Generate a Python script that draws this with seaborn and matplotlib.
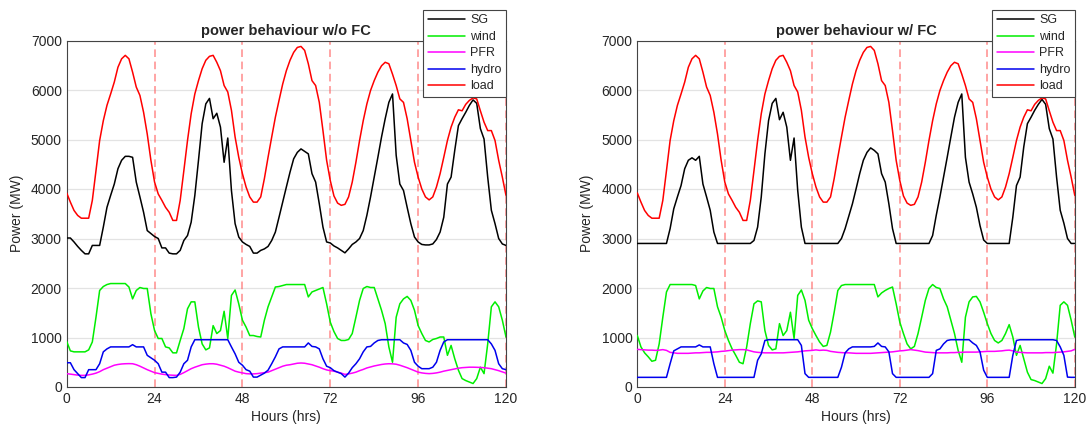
import numpy as np
import pandas as pd
import matplotlib
matplotlib.use("Agg")
import matplotlib.pyplot as plt
import seaborn as sns

hours = list(range(121))
series_names = ["SG", "wind", "PFR", "hydro", "load"]
colors = {"SG": "#000000", "wind": "#00ee00", "PFR": "#ff00ff", "hydro": "#0000ee", "load": "#ff0000"}
titles = ["power behaviour w/o FC", "power behaviour w/ FC"]
xticks = [0, 24, 48, 72, 96, 120]
yticks = [0, 1000, 2000, 3000, 4000, 5000, 6000, 7000]
day_marks = [24, 48, 72, 96, 120]

load = [3920, 3735, 3567, 3466, 3410, 3410, 3410, 3770, 4370, 4980,
        5380, 5690, 5920, 6160, 6460, 6630, 6700, 6630, 6360, 6060,
        5890, 5550, 5110, 4580, 4140, 3900, 3770, 3630, 3530, 3365,
        3365, 3770, 4370, 4980, 5520, 5920, 6190, 6430, 6600, 6680,
        6700, 6560, 6390, 6090, 5960, 5590, 5050, 4640, 4310, 4040,
        3840, 3735, 3735, 3840, 4210, 4640, 5050, 5450, 5790, 6120,
        6390, 6600, 6760, 6860, 6880, 6800, 6530, 6190, 6090, 5750,
        5180, 4580, 4170, 3860, 3715, 3670, 3690, 3840, 4140, 4540,
        4980, 5380, 5720, 5990, 6190, 6360, 6490, 6560, 6530, 6320,
        6090, 5820, 5750, 5420, 4980, 4540, 4240, 4000, 3840, 3780,
        3840, 4040, 4310, 4640, 4980, 5250, 5450, 5600, 5580, 5710,
        5790, 5840, 5820, 5580, 5350, 5180, 5180, 4980, 4580, 4240,
        3870]

sg_nofc = [3010, 3010, 2930, 2840, 2760, 2690, 2690, 2860, 2860, 2860,
           3230, 3630, 3870, 4100, 4410, 4580, 4660, 4660, 4640, 4140,
           3840, 3530, 3160, 3100, 3040, 3000, 2810, 2810, 2705, 2690,
           2690, 2760, 2960, 3060, 3330, 3870, 4580, 5320, 5720, 5830,
           5420, 5530, 5250, 4540, 5030, 3970, 3300, 3030, 2930, 2880,
           2840, 2705, 2705, 2760, 2790, 2840, 2960, 3130, 3430, 3735,
           4040, 4340, 4610, 4740, 4810, 4760, 4710, 4310, 4140, 3700,
           3230, 2930, 2910, 2850, 2810, 2760, 2710, 2790, 2880, 2930,
           3000, 3160, 3470, 3840, 4240, 4640, 5050, 5420, 5750, 5920,
           4680, 4100, 3970, 3630, 3300, 3030, 2930, 2880, 2870, 2870,
           2890, 2980, 3130, 3430, 4100, 4240, 4780, 5280, 5420, 5550,
           5690, 5800, 5730, 5220, 5010, 4240, 3570, 3300, 3000, 2890,
           2860]

wind_nofc = [920, 730, 710, 710, 710, 710, 750, 910, 1410, 1950,
             2030, 2070, 2090, 2090, 2090, 2090, 2090, 2020, 1780, 1950,
             2010, 1990, 1990, 1480, 1140, 980, 980, 810, 790, 690,
             690, 940, 1180, 1580, 1720, 1720, 1210, 870, 750, 790,
             1240, 1080, 1140, 1530, 980, 1850, 1960, 1680, 1350, 1210,
             1040, 1040, 1020, 1010, 1350, 1620, 1820, 2020, 2030, 2050,
             2070, 2070, 2070, 2070, 2070, 2070, 1820, 1920, 1950, 1980,
             2010, 1680, 1310, 1120, 980, 940, 940, 960, 1080, 1410,
             1750, 1990, 2030, 2010, 2010, 1780, 1550, 1280, 810, 500,
             1410, 1680, 1780, 1830, 1750, 1550, 1240, 1080, 940, 910,
             960, 980, 1010, 1010, 640, 840, 570, 340, 170, 130,
             100, 70, 170, 400, 270, 870, 1620, 1720, 1620, 1350,
             1010]

pfr_nofc = [270, 260, 250, 240, 235, 235, 245, 260, 280, 310,
            350, 380, 410, 440, 455, 465, 470, 472, 470, 450,
            420, 385, 350, 320, 290, 275, 260, 250, 242, 238,
            235, 255, 290, 330, 370, 400, 425, 450, 462, 470,
            470, 460, 440, 420, 390, 355, 320, 300, 285, 270,
            265, 265, 270, 280, 290, 300, 330, 360, 390, 420,
            440, 450, 465, 480, 485, 480, 465, 450, 425, 400,
            370, 345, 330, 320, 300, 280, 255, 265, 280, 300,
            330, 355, 385, 405, 425, 440, 455, 465, 470, 468,
            460, 440, 415, 390, 360, 330, 300, 285, 275, 270,
            275, 285, 300, 320, 335, 350, 365, 380, 390, 395,
            400, 400, 398, 395, 390, 380, 370, 350, 330, 305,
            280]

hydro_nofc = [490, 490, 350, 270, 190, 190, 350, 350, 350, 470,
              710, 770, 810, 810, 810, 810, 810, 810, 855, 810,
              810, 810, 640, 590, 540, 470, 300, 300, 190, 190,
              200, 300, 470, 540, 810, 955, 955, 955, 955, 955,
              955, 955, 955, 955, 955, 810, 670, 500, 440, 350,
              320, 200, 200, 240, 280, 340, 470, 610, 770, 810,
              810, 810, 810, 810, 810, 810, 890, 820, 810, 770,
              570, 420, 390, 330, 300, 270, 200, 280, 390, 470,
              570, 710, 810, 820, 890, 940, 955, 955, 955, 955,
              955, 955, 890, 860, 740, 500, 420, 370, 370, 370,
              400, 500, 740, 910, 955, 955, 955, 955, 955, 955,
              955, 955, 955, 955, 955, 955, 870, 740, 470, 370,
              350]

sg_fc = [2900, 2900, 2900, 2900, 2900, 2900, 2900, 2900, 2900, 3200,
         3600, 3840, 4070, 4410, 4580, 4630, 4580, 4660, 4100, 3840,
         3570, 3130, 2900, 2900, 2900, 2900, 2900, 2900, 2900, 2900,
         2900, 2900, 2960, 3230, 3840, 4710, 5380, 5730, 5830, 5400,
         5550, 5250, 4580, 5030, 3970, 3230, 2900, 2900, 2900, 2900,
         2900, 2900, 2900, 2900, 2900, 2900, 3000, 3200, 3450, 3700,
         4000, 4310, 4580, 4740, 4830, 4780, 4710, 4310, 4140, 3700,
         3200, 2900, 2900, 2900, 2900, 2900, 2900, 2900, 2900, 2900,
         2900, 3060, 3470, 3840, 4240, 4640, 5050, 5450, 5750, 5920,
         4640, 4140, 3900, 3630, 3260, 2970, 2900, 2900, 2900, 2900,
         2900, 2900, 2900, 3430, 4070, 4240, 4850, 5320, 5450, 5590,
         5710, 5810, 5710, 5220, 5010, 4240, 3570, 3310, 3000, 2900,
         2900]

wind_fc = [1040, 810, 690, 610, 520, 540, 870, 1410, 1920, 2070,
           2070, 2070, 2070, 2070, 2070, 2070, 2050, 1780, 1940, 2010,
           1990, 1990, 1620, 1410, 1140, 940, 770, 640, 500, 470,
           810, 1280, 1680, 1740, 1720, 1140, 840, 750, 770, 1280,
           1040, 1140, 1510, 980, 1850, 1960, 1750, 1350, 1180, 1040,
           910, 820, 840, 1110, 1510, 1950, 2050, 2070, 2070, 2070,
           2070, 2070, 2070, 2070, 2070, 2070, 1820, 1900, 1950, 1990,
           2020, 1680, 1310, 1080, 870, 770, 820, 1080, 1410, 1750,
           1990, 2070, 2010, 1990, 1780, 1620, 1350, 1080, 740, 500,
           1410, 1720, 1820, 1830, 1720, 1510, 1280, 1080, 940, 890,
           940, 1080, 1260, 1010, 640, 840, 570, 300, 150, 130,
           100, 70, 170, 420, 280, 870, 1650, 1720, 1650, 1350,
           1010]

pfr_fc = [760, 755, 750, 745, 745, 740, 745, 755, 740, 700,
          690, 680, 680, 680, 680, 685, 690, 690, 695, 700,
          700, 705, 710, 720, 725, 735, 745, 750, 755, 755,
          750, 730, 710, 700, 695, 690, 690, 690, 690, 690,
          690, 695, 700, 705, 710, 720, 730, 735, 740, 750,
          740, 745, 740, 720, 710, 700, 695, 690, 690, 685,
          680, 680, 680, 680, 680, 685, 690, 695, 700, 705,
          710, 720, 730, 735, 745, 755, 745, 735, 720, 705,
          700, 695, 690, 690, 690, 690, 695, 695, 700, 700,
          705, 705, 705, 705, 710, 715, 720, 720, 720, 725,
          730, 740, 745, 730, 705, 700, 695, 690, 690, 690,
          690, 690, 695, 695, 695, 700, 705, 710, 720, 730,
          760]

hydro_fc = [195, 195, 195, 195, 195, 195, 195, 195, 195, 470,
            730, 770, 810, 810, 810, 810, 810, 850, 810, 810,
            810, 470, 195, 195, 195, 195, 195, 195, 195, 195,
            195, 195, 195, 540, 670, 940, 955, 955, 955, 955,
            955, 955, 955, 955, 955, 840, 270, 195, 195, 195,
            195, 195, 195, 195, 195, 195, 400, 690, 770, 810,
            810, 810, 810, 810, 810, 820, 890, 820, 810, 710,
            270, 195, 195, 195, 195, 195, 195, 195, 195, 195,
            195, 270, 740, 770, 870, 940, 955, 955, 955, 955,
            955, 955, 890, 840, 710, 340, 195, 195, 195, 195,
            195, 195, 195, 640, 940, 955, 955, 955, 955, 955,
            955, 955, 955, 955, 955, 940, 810, 640, 200, 195,
            195]

cases = [
    {"SG": sg_nofc, "wind": wind_nofc, "PFR": pfr_nofc, "hydro": hydro_nofc, "load": load},
    {"SG": sg_fc, "wind": wind_fc, "PFR": pfr_fc, "hydro": hydro_fc, "load": load},
]

sns.set_style("white")
plt.rcParams["font.family"] = ["Liberation Sans", "DejaVu Sans"]
plt.rcParams["axes.unicode_minus"] = False

fig = plt.figure(figsize=(10.88, 4.32), dpi=100)
positions = [[66.7 / 1088, 1 - 387 / 432, 439.3 / 1088, 346.5 / 432],
             [637.3 / 1088, 1 - 387 / 432, 437.5 / 1088, 346.5 / 432]]

for pos, case, title in zip(positions, cases, titles):
    ax = fig.add_axes(pos)
    frames = []
    for name in series_names:
        frames.append(pd.DataFrame({"Hours": hours, "Power": case[name], "series": name}))
    df = pd.concat(frames, ignore_index=True)
    ax.yaxis.grid(True, color="#e3e3e3", linewidth=0.9)
    ax.set_axisbelow(True)
    for d in day_marks:
        ax.axvline(d, color="#ff6666", alpha=0.75, linestyle=(0, (5, 3)), linewidth=1.1, zorder=1)
    sns.lineplot(data=df, x="Hours", y="Power", hue="series", hue_order=series_names,
                 palette=colors, linewidth=1.1, ax=ax, legend=True, zorder=3)
    ax.set_xlim(0, 120)
    ax.set_ylim(0, 7000)
    ax.set_xticks(xticks)
    ax.set_yticks(yticks)
    ax.tick_params(direction="in", length=3, labelsize=10, colors="#262626", width=0.8)
    for sp in ax.spines.values():
        sp.set_visible(True)
        sp.set_color("#444444")
        sp.set_linewidth(0.8)
    ax.set_xlabel("Hours (hrs)", fontsize=10, color="#262626", labelpad=3)
    ax.set_ylabel("Power (MW)", fontsize=10, color="#262626", labelpad=5)
    ax.set_title(title, fontsize=10.5, fontweight="bold", pad=4)
    sns.move_legend(ax, "upper right", bbox_to_anchor=(1.0, 1.088), title=None,
                    frameon=True, fancybox=False, framealpha=1, edgecolor="#444444",
                    fontsize=9, handlelength=3.0, borderaxespad=0, labelspacing=0.36,
                    handletextpad=0.4, borderpad=0.35)
    leg = ax.get_legend()
    leg.get_frame().set_linewidth(0.8)
    leg.set_zorder(10)

fig.savefig("out.png", dpi=100)
